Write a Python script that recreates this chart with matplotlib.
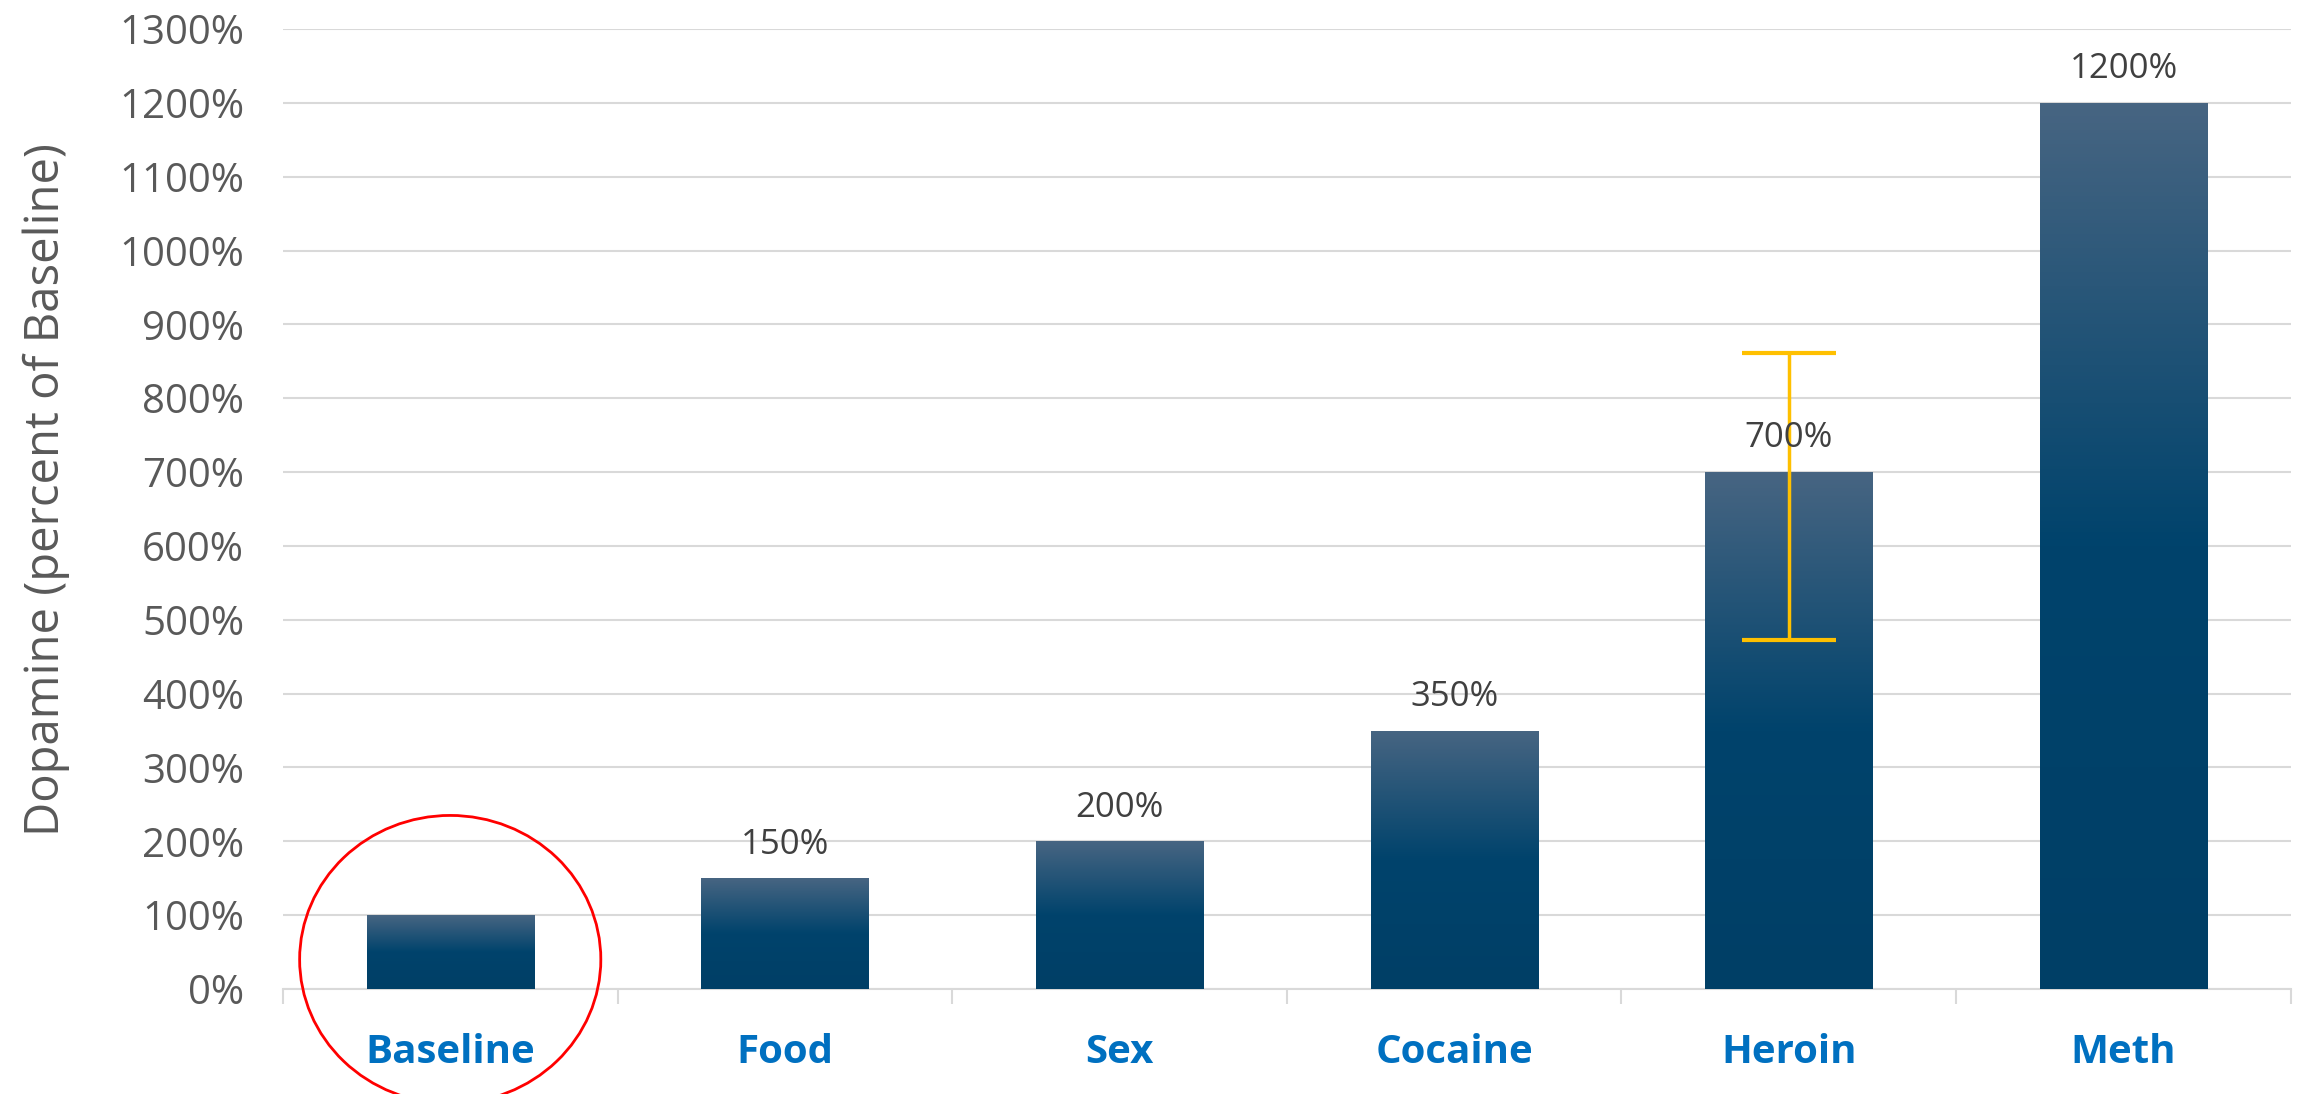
import matplotlib
matplotlib.use("Agg")
import matplotlib.pyplot as plt
import numpy as np
from matplotlib.colors import LinearSegmentedColormap
from matplotlib.patches import Ellipse
from matplotlib.ticker import FixedLocator

categories = ["Baseline", "Food", "Sex", "Cocaine", "Heroin", "Meth"]
values = [100, 150, 200, 350, 700, 1200]
# asymmetric error bar, only Heroin has one
err_low = [0, 0, 0, 0, 227, 0]
err_high = [0, 0, 0, 0, 161, 0]
labels = ["", "150%", "200%", "350%", "700%", "1200%"]
yticks = list(range(0, 1301, 100))

plt.rcParams["font.family"] = ["Open Sans", "DejaVu Sans"]

fig = plt.figure(figsize=(23, 10.94), dpi=100)
ax = fig.add_axes([0.123, 0.096, 0.873, 0.8775])

x = np.arange(len(categories))
bars = ax.bar(x, values, width=0.5, color="none", zorder=3)

# vertical gradient per bar: light at top, dark from mid bar down
cmap = LinearSegmentedColormap.from_list(
    "bar", [(0.0, "#003f66"), (0.5, "#00436c"), (1.0, "#476582")])
grad = np.linspace(0, 1, 256).reshape(-1, 1)
for b in bars:
    x0, y0 = b.get_x(), b.get_y()
    w, h = b.get_width(), b.get_height()
    im = ax.imshow(grad, cmap=cmap, aspect="auto", origin="lower",
                   extent=[x0, x0 + w, y0, y0 + h], zorder=3)
    im.set_clip_path(b)

# error bars only where there is one
for i in range(len(categories)):
    if err_low[i] or err_high[i]:
        ax.errorbar(x[i], values[i], yerr=[[err_low[i]], [err_high[i]]],
                    fmt="none", ecolor="#ffc000", elinewidth=2.5, capsize=34,
                    capthick=3, zorder=5)

for i, (v, lab) in enumerate(zip(values, labels)):
    if lab:
        ax.annotate(lab, (x[i], v), xytext=(0, 12), textcoords="offset points",
                    ha="center", va="bottom", fontsize=25, color="#404040",
                    zorder=6)

ax.set_xlim(-0.5, len(categories) - 0.5)
ax.set_ylim(0, 1300)
ax.set_yticks(yticks)
ax.set_yticklabels([f"{t}%" for t in yticks])
ax.tick_params(axis="y", length=0, pad=28, labelsize=29, labelcolor="#595959")
ax.yaxis.grid(True, color="#d9d9d9", linewidth=1.5, zorder=0)
ax.set_axisbelow(True)

ax.set_xticks(x)
ax.set_xticklabels(categories, fontsize=29, fontweight="bold", color="#0070c0")
ax.tick_params(axis="x", length=0, pad=32)
ax.xaxis.set_minor_locator(FixedLocator(np.arange(-0.5, len(categories), 1)))
ax.tick_params(axis="x", which="minor", length=11, width=1.5, color="#d9d9d9")

for s in ["top", "right", "left"]:
    ax.spines[s].set_visible(False)
ax.spines["bottom"].set_color("#d9d9d9")
ax.spines["bottom"].set_linewidth(1.5)

ax.set_ylabel("Dopamine (percent of Baseline)", fontsize=34, color="#595959")
ax.yaxis.set_label_coords(-0.106, 0.52)

# red circle highlighting the baseline bar
ax.add_patch(Ellipse((x[0], values[0] * 0.4), 0.9, 390, fill=False,
                     edgecolor="red", linewidth=2, clip_on=False, zorder=7))

fig.savefig("out.png", dpi=100)
